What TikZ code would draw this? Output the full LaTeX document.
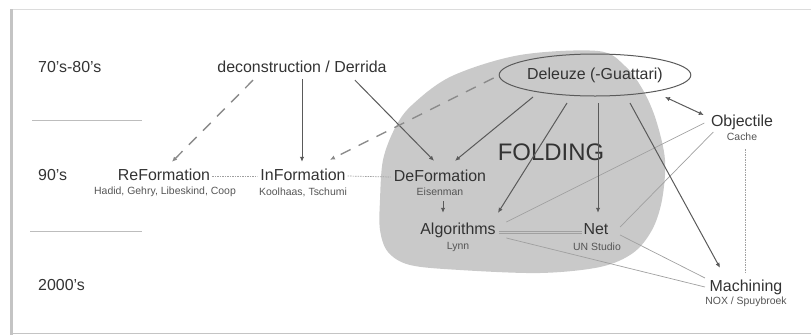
\documentclass[tikz,border=0pt]{standalone}
\usepackage{fontspec}
\setmainfont{Liberation Sans}
\usetikzlibrary{arrows.meta,calc,shapes.geometric}
\definecolor{txt}{HTML}{333333}
\definecolor{subtxt}{HTML}{555555}
\definecolor{linec}{HTML}{5A5A5A}
\definecolor{dashc}{HTML}{8A8A8A}
\definecolor{thinc}{HTML}{A0A0A0}
\definecolor{blob}{HTML}{C9C9C9}
\definecolor{framec}{HTML}{C4C4C4}
\begin{document}
\begin{tikzpicture}[x=1bp,y=-1bp,
  lbl/.style={font=\fontsize{16}{18}\selectfont, text=txt, inner sep=0pt, text height=11.5bp, text depth=3.5bp},
  sub/.style={font=\fontsize{10.5}{12}\selectfont, text=subtxt, inner sep=0pt},
  era/.style={lbl, anchor=west},
  arr/.style={draw=linec, line width=1bp, -{Latex[length=5bp,width=4.5bp]}},
  darr/.style={arr, draw=dashc, line width=1.4bp, dash pattern=on 11bp off 9bp},
  link/.style={draw=thinc, line width=0.7bp},
  dlink/.style={link, dash pattern=on 1.5bp off 1bp},
  sep/.style={draw=thinc!70, line width=1bp},
]
\useasboundingbox (0,0) rectangle (811,335);
% frame
\draw[framec!60, line width=1bp] (12,9) -- (811,9);
\draw[framec, line width=1bp] (11.5,333) -- (811,333);
\draw[framec, line width=3bp] (11.5,9) -- (11.5,335);

% folding blob
\fill[blob] plot[smooth cycle, tension=0.55] coordinates {
 (380,200) (383,160) (395,128) (412,105) (452,76) (520,55) (598,51)
 (625,66) (643,90) (656,120) (665,160) (662,200) (652,230) (633,253)
 (600,267) (540,273) (460,270) (410,265) (388,252) (380,230)};

% era labels and separators
\node[era] (e70) at (38,68) {70's-80's};
\node[era] (e90) at (38,176) {90's};
\node[era] (e00) at (38,286) {2000's};
\draw[sep] (32,120) -- (142,120);
\draw[sep] (30,231) -- (142,231);

% nodes
\node[lbl] (dec) at (302,68) {deconstruction / Derrida};
\node[lbl, ellipse, draw=linec, line width=1bp, minimum width=156bp, minimum height=42bp] (del) at (595,75) {Deleuze (-Guattari)};
\node[font=\fontsize{24}{26}\selectfont, text=txt, inner sep=0pt] (fold) at (551,152) {FOLDING};

\node[lbl] (re) at (164,176) {ReFormation};
\node[sub] (reS) at (165,192) {Hadid, Gehry, Libeskind, Coop};
\node[lbl] (in) at (303,176) {InFormation};
\node[sub] (inS) at (303,192) {Koolhaas, Tschumi};
\node[lbl] (de) at (440,177) {DeFormation};
\node[sub] (deS) at (440,192) {Eisenman};
\node[lbl] (alg) at (458,230) {Algorithms};
\node[sub] (algS) at (458,247) {Lynn};
\node[lbl] (net) at (596,230) {Net};
\node[sub] (netS) at (597,247) {UN Studio};
\node[lbl] (obj) at (742,122) {Objectile};
\node[sub] (objS) at (742,137) {Cache};
\node[lbl] (mach) at (746,287) {Machining};
\node[sub] (machS) at (746,302) {NOX / Spuybroek};

% thin links
\draw[dlink] ($(re.east)+(2,0)$) -- ($(in.west)+(-3,0)$);
\draw[dlink] ($(in.east)+(2,0)$) -- ($(de.west)+(-3,0)$);
\draw[link] ($(alg.east)+(3,1)$) -- ($(net.west)+(-1,1)$);
\draw[link] ($(alg.east)+(3,3)$) -- ($(net.west)+(-1,3)$);
\draw[link] ($(obj.west)+(-6.5,1)$) -- ($(alg.east)+(10.5,-8)$);
\draw[link] ($(obj.west)+(2.5,10)$) -- ($(net.east)+(11.5,-3)$);
\draw[link] ($(alg.east)+(10.5,8)$) -- ($(mach.west)+(-4.5,0)$);
\draw[link] ($(net.east)+(11.5,5)$) -- ($(mach.west)+(-4.5,-9)$);
\draw[dlink] ($(objS.south)+(3,8)$) -- ($(mach.north)+(-1,-6)$);

% arrows from deconstruction
\draw[darr] ($(dec.south)+(-49,4.5)$) -- ($(re.north)+(8,-6.5)$);
\draw[arr] ($(dec.south)+(0,3.5)$) -- ($(in.north)+(-1,-6.5)$);
\draw[arr] ($(dec.south)+(53,4.5)$) -- ($(de.north)+(-6,-8.5)$);

% arrows from Deleuze
\draw[darr] ($(del.west)+(-5,3)$) -- ($(in.north)+(27,-8.5)$);
\draw[arr] ($(del.center)+(-62,22)$) -- ($(de.north)+(15,-8.5)$);
\draw[arr] ($(del.center)+(-28,28)$) -- ($(alg.north)+(40,-9.5)$);
\draw[arr] ($(del.center)+(3,28)$) -- ($(net.north)+(2,-9.5)$);
\draw[arr] ($(del.center)+(35,28)$) -- ($(mach.north)+(-26,-11.5)$);
\draw[arr, {Latex[length=5bp,width=4.5bp]}-{Latex[length=5bp,width=4.5bp]}] ($(del.center)+(70,22)$) -- ($(obj.west)+(-7,-7)$);

% DeFormation to Algorithms
\draw[arr] ($(deS.south)+(3,5)$) -- ($(alg.north)+(-15,-9.5)$);
\end{tikzpicture}
\end{document}
